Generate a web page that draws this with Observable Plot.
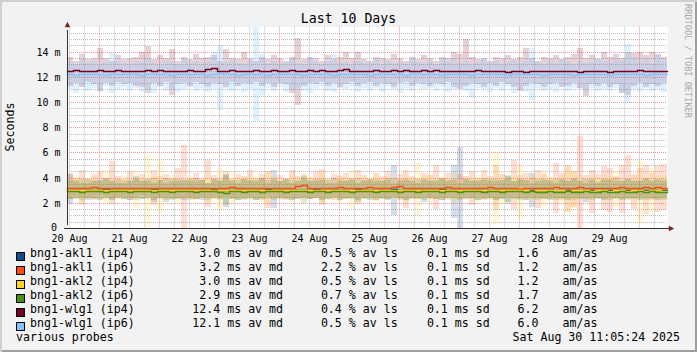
<!DOCTYPE html>
<html>
<head>
<meta charset="utf-8">
<script src="https://cdn.jsdelivr.net/npm/d3@7"></script>
<script src="https://cdn.jsdelivr.net/npm/@observablehq/plot@0.6"></script>
<style>
html, body { margin:0; padding:0; background:#f2f2f2; }
#wrap { position:relative; width:697px; height:352px; background:#f2f2f2; overflow:hidden;
  font-family:"DejaVu Sans Mono", monospace; color:#000; }
#plot { position:absolute; left:0; top:0; }
.t { position:absolute; white-space:pre; }
.sw { position:absolute; width:7px; height:7px; border:1px solid #000; }
#shade { position:absolute; left:0; top:0; width:697px; height:352px; pointer-events:none;
  box-shadow: inset 2px 2px 0 #cfcfcf, inset -2px -2px 0 #9e9e9e; }
</style>
</head>
<body>
<div id="wrap"><div id="plot"></div></div>
<script>
// ---------- data ----------
const seriesNames = ["bng1-akl1 (ip4)","bng1-akl1 (ip6)","bng1-akl2 (ip4)","bng1-akl2 (ip6)","bng1-wlg1 (ip4)","bng1-wlg1 (ip6)"];
const avMedian = ["3.0","3.2","3.0","2.9","12.4","12.1"];
const avLoss   = ["0.5","2.2","0.5","0.7","0.4","0.5"];
const sdev     = ["0.1","0.1","0.1","0.1","0.1","0.1"];
const amas     = ["1.6","1.2","1.2","1.7","6.2","6.0"];
const yTickVals = [0,2,4,6,8,10,12,14];
const xTickDays = ["2025-08-20","2025-08-21","2025-08-22","2025-08-23","2025-08-24","2025-08-25","2025-08-26","2025-08-27","2025-08-28","2025-08-29"];
const xTickLabels = ["20 Aug","21 Aug","22 Aug","23 Aug","24 Aug","25 Aug","26 Aug","27 Aug","28 Aug","29 Aug"];
const startTime = "2025-08-20T11:05:24Z";
const endTime = "2025-08-30T11:05:24Z";
const stampText = "Sat Aug 30 11:05:24 2025";

// median (ms) per 2.4 h step
const akl1ip4Md = [3.05,3.0,3.05,3.05,3.0,3.05,3.1,3.05,3.0,3.05, 3.05,3.0,3.05,3.05,3.1,3.05,3.0,3.05,3.05,3.0, 3.05,3.05,3.0,3.05,3.1,3.05,3.05,3.0,3.05,3.05, 3.0,3.05,3.05,3.1,3.05,3.0,3.05,3.05,3.0,3.05, 3.05,3.1,3.05,3.0,3.05,3.05,3.0,3.05,3.1,3.05, 3.05,3.0,3.05,3.05,3.1,3.05,3.0,3.05,3.05,3.0, 3.05,3.05,3.1,3.05,3.0,3.05,3.05,3.0,3.05,3.05, 3.0,3.05,3.05,3.0,3.05,3.05,3.0,3.05,3.05,3.0, 3.05,3.0,3.05,3.05,3.0,3.05,3.0,3.05,3.05,3.0, 3.0,3.05,3.0,3.05,3.0,3.05,3.0,3.0,3.05,3.0];
const akl1ip4Lo = [1.9,2.3,2.4,2.2,2.4,2.3,2.5,2.2,2.4,2.3, 2.2,2.4,2.3,2.5,2.2,2.4,2.1,2.3,2.4,2.2, 2.4,2.3,2.2,2.4,2.5,2.3,1.7,2.4,2.2,2.3, 2.4,2.2,2.3,2.5,1.6,2.3,2.4,2.2,2.3,2.4, 2.3,2.4,2.2,2.3,2.5,2.2,2.4,2.3,2.2,2.4, 2.3,2.2,2.4,2.3,1.0,2.4,2.2,2.3,2.4,2.1, 2.4,2.3,2.2,2.4,0.8,0.0,2.3,2.4,2.2,2.3, 2.4,2.2,2.3,2.1,2.4,2.3,2.2,1.7,2.4,2.3, 2.2,2.4,2.3,2.2,2.4,2.3,2.1,2.4,2.3,2.2, 2.4,2.3,2.2,2.4,2.3,2.2,2.4,2.3,2.2,2.4];
const akl1ip4Hi = [4.3,3.8,3.6,3.9,3.7,3.8,4.0,3.7,3.9,3.6, 3.8,4.1,3.7,3.9,3.6,3.8,4.0,3.7,3.9,3.8, 3.7,4.0,3.8,3.6,3.9,3.7,4.2,3.8,3.6,3.9, 3.8,3.7,4.0,3.8,4.6,3.7,3.9,3.6,3.8,4.0, 3.7,3.9,3.8,3.6,4.0,3.7,3.8,3.9,3.6,3.8, 3.9,3.7,3.8,4.0,5.0,3.7,3.9,3.8,3.6,3.9, 3.8,3.7,4.0,3.8,5.0,6.4,3.9,3.7,3.8,4.0, 3.7,3.9,3.8,4.1,3.7,3.9,3.8,4.4,3.7,3.9, 3.8,3.6,3.9,3.8,4.0,3.7,3.9,3.8,3.6,3.9, 3.8,4.0,3.7,3.9,3.8,3.7,4.0,3.8,3.9,3.7];

const akl1ip6Md = [3.15,3.2,3.15,3.2,3.25,3.15,3.2,3.15,3.2,3.15, 3.2,3.15,3.2,3.2,3.15,3.2,3.15,3.15,3.2,3.15, 3.2,3.15,3.2,3.15,3.2,3.15,3.2,3.25,3.15,3.2, 3.15,3.2,3.15,3.2,3.15,3.2,3.15,3.2,3.3,3.4, 3.2,3.15,3.2,3.15,3.2,3.25,3.15,3.2,3.15,3.2, 3.25,3.2,3.15,3.2,3.25,3.3,3.2,3.15,3.2,3.15, 3.2,3.15,3.2,3.25,3.2,3.15,3.2,3.2,3.15,3.2, 3.25,3.2,3.15,3.2,3.15,3.1,3.15,3.2,3.15,3.2, 3.2,3.25,3.2,3.15,3.2,3.25,3.2,3.15,3.2,3.2, 3.15,3.2,3.25,3.2,3.15,3.2,3.25,3.2,3.25,3.2];
const akl1ip6Lo = [2.3,2.5,1.8,2.4,2.2,2.6,2.3,1.9,2.4,2.5, 2.2,2.4,2.6,2.3,1.8,2.5,2.2,2.4,2.3,0.0, 2.4,2.3,2.5,1.7,2.4,2.2,2.5,2.3,2.4,2.2, 2.5,2.3,2.2,1.6,2.4,2.5,2.2,2.4,2.3,2.5, 2.3,2.4,1.8,2.5,2.2,2.4,2.3,2.5,1.9,2.4, 2.5,2.2,2.4,2.3,2.5,2.2,1.6,2.4,2.3,2.5, 2.3,1.5,2.4,2.2,2.5,2.3,2.4,1.8,2.5,2.2, 2.4,1.4,2.3,2.5,1.5,2.4,2.2,2.5,1.6,2.3, 2.5,1.2,2.2,1.3,1.7,0.0,2.3,1.2,2.4,1.4, 1.3,2.4,1.2,2.3,1.5,2.5,1.1,2.2,1.3,1.4];
const akl1ip6Hi = [4.4,4.0,4.6,3.9,4.3,4.5,4.0,5.3,4.1,3.9, 4.5,4.0,4.3,3.9,4.6,4.1,4.3,4.0,4.8,6.6, 4.0,4.4,3.9,5.4,4.2,4.0,4.5,3.9,4.3,4.1, 4.6,4.0,4.3,4.5,4.0,4.2,3.9,4.6,4.1,4.3, 4.0,4.5,4.7,3.9,4.3,4.1,4.4,4.0,4.6,4.2, 3.9,4.4,4.1,4.5,4.0,4.3,4.6,4.1,3.9,4.4, 4.2,5.0,4.0,4.4,3.9,4.3,4.1,4.5,4.0,4.6, 4.1,5.0,4.3,4.0,5.4,4.2,4.4,4.0,4.6,4.3, 4.0,5.2,4.4,5.0,4.5,7.3,4.2,4.6,4.3,4.9, 4.8,4.1,5.0,5.8,4.3,4.8,5.0,4.4,5.0,5.1];

const akl2ip4Md = [3.0,3.05,3.0,3.0,3.05,3.0,3.0,3.05,3.0,3.0, 3.05,3.0,3.0,3.0,3.05,3.0,3.0,3.05,3.0,3.0, 3.0,3.05,3.0,3.0,3.05,3.0,3.0,3.0,3.05,3.0, 3.0,3.05,3.0,3.0,3.0,3.05,3.0,3.0,3.05,3.0, 3.0,3.0,3.05,3.0,3.0,3.05,3.0,3.0,3.0,3.05, 3.0,3.0,3.05,3.0,3.0,3.0,3.05,3.0,3.0,3.05, 3.0,3.0,3.0,3.05,3.0,3.0,3.05,3.0,3.0,3.0, 3.05,3.0,3.0,3.0,3.05,3.0,3.0,2.95,3.0,3.0, 3.0,3.05,3.0,2.95,3.0,3.0,3.0,2.95,3.0,3.0, 2.95,3.0,3.0,2.95,3.0,3.0,2.95,3.0,3.0,2.95];
const akl2ip4Lo = [2.2,2.4,2.1,2.3,2.5,2.2,2.0,2.4,2.3,2.2, 2.4,1.6,2.3,0.1,2.4,1.2,2.2,2.3,2.1,2.4, 2.3,2.2,2.4,2.1,2.3,1.4,2.2,2.0,2.3,2.4, 2.2,2.3,2.1,1.8,2.4,2.2,2.3,2.1,2.4,2.2, 2.3,2.4,2.0,2.2,2.3,2.1,2.4,1.5,2.2,2.3, 2.4,2.1,2.3,2.2,2.4,2.3,2.1,2.2,1.0,2.3, 2.1,2.3,2.2,2.4,2.0,2.3,2.2,2.4,2.1,2.3, 2.2,0.3,2.0,2.3,2.2,0.8,2.4,2.1,2.3,1.7, 2.3,2.2,2.1,1.2,1.6,2.2,2.3,2.1,2.4,2.2, 2.3,1.7,2.2,2.4,2.1,0.4,2.3,1.3,2.2,2.3];
const akl2ip4Hi = [3.9,4.2,3.8,4.0,4.1,3.7,4.6,3.9,4.0,4.2, 3.8,4.5,4.0,5.8,4.1,5.5,3.9,4.2,4.0,3.8, 4.1,3.9,4.0,4.3,3.8,4.8,4.0,4.4,3.9,4.1, 4.0,4.2,3.9,4.5,4.1,3.8,4.0,4.3,3.9,4.2, 4.1,3.8,4.4,4.0,3.9,4.2,4.0,4.6,3.8,4.1, 4.0,4.3,3.9,4.1,4.0,3.8,4.2,4.0,5.2,4.1, 4.3,3.9,4.1,4.0,4.4,3.8,4.1,3.9,4.2,4.0, 3.9,6.0,4.2,4.0,4.1,5.1,3.9,4.3,4.0,4.6, 4.1,3.9,4.2,4.9,4.5,4.1,3.9,4.2,4.0,4.3, 4.1,4.5,4.0,3.9,4.2,5.3,4.0,4.8,4.1,4.2];

const akl2ip6Md = [2.9,2.9,2.85,2.9,2.9,2.9,2.85,2.9,2.9,2.9, 2.85,2.9,2.9,2.9,2.85,2.9,2.9,2.85,2.9,2.9, 2.9,2.85,2.9,2.9,2.9,2.85,2.8,2.9,2.9,2.85, 2.9,2.9,2.85,2.9,2.9,2.9,2.85,2.9,2.9,2.9, 2.85,2.9,2.9,2.85,2.9,2.9,2.9,2.85,2.9,2.9, 2.9,2.85,2.9,2.9,2.9,2.85,2.9,2.9,2.85,2.9, 2.9,2.9,2.85,2.9,2.9,2.85,2.9,2.9,2.9,2.85, 2.9,2.9,2.85,2.9,2.9,2.9,2.85,2.9,2.85,2.85, 2.9,2.85,2.85,2.9,2.85,2.85,2.9,2.85,2.85,2.9, 2.85,2.85,2.9,2.85,2.85,2.9,2.85,2.9,2.85,2.85];
const akl2ip6Lo = [2.3,2.4,2.2,2.4,2.3,2.2,2.4,2.3,2.5,2.3, 2.4,2.2,2.3,2.4,2.1,2.3,2.4,2.2,2.3,2.4, 2.2,2.3,2.4,2.2,2.3,2.4,1.8,2.3,2.2,2.4, 2.3,2.2,2.4,2.3,2.2,2.4,2.3,2.2,2.4,2.0, 2.3,2.4,2.2,2.3,2.4,2.2,2.3,2.4,2.1,2.3, 2.2,2.4,2.3,2.2,2.4,2.3,2.2,2.4,2.3,2.2, 2.4,2.3,2.2,2.4,2.3,2.2,2.4,2.3,2.2,2.4, 2.3,2.2,2.4,1.9,2.3,2.2,2.4,2.3,2.2,2.4, 2.3,2.2,2.4,2.3,2.2,2.4,2.3,2.2,2.4,2.3, 2.2,2.4,2.3,2.2,2.4,2.3,2.2,2.4,2.3,2.2];
const akl2ip6Hi = [3.8,3.7,3.9,3.6,3.8,3.7,3.9,3.8,3.6,3.8, 3.7,3.9,3.8,3.7,4.0,3.8,3.6,3.9,3.7,3.8, 3.9,3.7,3.8,3.6,3.9,3.8,4.3,3.7,3.8,3.9, 3.7,3.8,3.9,3.6,3.8,3.7,3.9,3.8,3.7,4.1, 3.8,3.7,3.9,3.8,3.6,3.9,3.7,3.8,4.0,3.7, 3.8,3.9,3.7,3.8,3.6,3.9,3.8,3.7,3.9,3.8, 3.7,3.8,3.9,3.7,3.8,3.6,3.9,3.8,3.7,3.8, 3.9,3.7,3.8,4.2,3.7,3.9,3.8,3.6,3.9,3.8, 3.7,3.9,3.8,3.7,3.9,3.8,3.6,3.9,3.7,3.8, 3.9,3.7,3.8,3.9,3.7,3.8,3.9,3.7,3.8,3.9];

const wlg1ip4Md = [12.5,12.55,12.5,12.5,12.45,12.55,12.5,12.5,12.55,12.5, 12.5,12.45,12.5,12.55,12.5,12.55,12.5,12.5,12.45,12.5, 12.55,12.5,12.5,12.6,12.7,12.5,12.5,12.55,12.5,12.45, 12.5,12.55,12.5,12.5,12.55,12.5,12.5,12.55,12.5,12.5, 12.55,12.5,12.55,12.45,12.5,12.55,12.6,12.5,12.5,12.45, 12.5,12.55,12.5,12.5,12.55,12.5,12.55,12.5,12.5,12.55, 12.5,12.55,12.45,12.5,12.5,12.45,12.5,12.5,12.55,12.5, 12.5,12.45,12.45,12.4,12.45,12.5,12.4,12.45,12.5,12.45, 12.45,12.45,12.5,12.45,12.45,12.4,12.45,12.45,12.5,12.45, 12.4,12.45,12.5,12.45,12.5,12.55,12.45,12.5,12.45,12.5];
const wlg1ip4Lo = [11.3,11.5,11.2,11.6,11.4,10.9,11.5,11.3,11.6,11.4, 11.5,11.3,11.2,10.7,11.5,11.3,11.6,10.55,11.4,11.5, 11.3,11.6,11.4,11.2,11.5,11.4,11.2,11.6,11.3,11.5, 11.4,11.6,11.3,11.5,11.2,11.5,11.4,10.7,9.8,11.3, 11.5,11.4,11.6,11.3,11.5,11.2,11.4,11.6,11.3,11.5, 11.6,11.3,11.5,11.4,11.2,11.5,11.6,11.3,11.5,11.4, 11.3,11.5,11.4,11.6,11.2,11.0,11.3,11.5,11.4,11.2, 11.5,11.3,11.6,11.4,11.2,10.9,11.3,11.5,11.4,11.2, 11.4,11.5,11.2,11.3,11.5,11.1,10.45,11.4,11.3,11.5, 11.2,11.4,10.7,10.6,11.3,11.5,11.2,11.4,11.3,11.5];
const wlg1ip4Hi = [13.6,13.3,13.8,13.4,13.5,14.3,13.5,13.3,13.7,13.4, 13.5,13.6,14.0,14.45,13.4,13.7,13.5,14.2,13.3,13.6, 13.4,13.8,13.5,13.6,13.7,13.3,14.2,13.5,13.4,14.0, 13.5,13.3,13.6,13.4,13.7,13.5,13.3,13.6,15.1,13.4, 13.6,13.5,13.3,13.7,13.4,13.6,14.0,13.5,14.0,13.4, 13.3,13.6,13.5,13.4,13.8,13.5,13.3,13.6,13.4,13.7, 13.5,13.3,13.6,13.5,14.0,13.8,15.0,13.6,13.4,13.5, 13.3,13.6,13.5,13.7,13.4,13.6,14.3,13.5,13.3,13.6, 13.5,13.7,13.4,13.6,13.8,14.3,13.5,13.7,13.4,14.0, 13.6,13.8,13.5,14.0,13.9,14.0,13.7,14.0,13.8,13.6];

const wlg1ip6Md = [12.2,12.15,12.2,12.2,12.25,12.2,12.15,12.2,12.2,12.25, 12.2,12.2,12.15,12.2,12.25,12.2,12.2,12.15,12.2,12.2, 12.25,12.2,12.2,12.15,12.2,12.3,12.2,12.2,12.15,12.2, 12.2,12.25,12.2,12.15,12.2,12.2,12.25,12.2,12.2,12.15, 12.2,12.2,12.25,12.2,12.15,12.2,12.2,12.25,12.2,12.2, 12.15,12.2,12.2,12.25,12.2,12.2,12.15,12.2,12.2,12.25, 12.2,12.2,12.15,12.2,12.25,12.2,12.2,12.15,12.2,12.2, 12.25,12.2,12.2,12.15,12.2,12.2,12.25,12.2,12.2,12.15, 12.2,12.2,12.25,12.2,12.15,12.2,12.2,12.25,12.2,12.2, 12.15,12.2,12.2,12.25,12.2,12.2,12.15,12.2,12.2,12.2];
const wlg1ip6Lo = [11.0,10.7,11.2,10.9,11.1,10.8,11.3,10.7,11.0,11.2, 10.9,11.1,10.8,11.0,10.7,11.2,10.9,11.1,10.8,11.0, 11.2,10.9,11.1,10.8,11.0,9.4,11.1,10.9,11.2,10.8, 11.0,8.5,10.6,11.1,10.9,11.2,10.8,11.0,11.1,10.9, 10.7,11.0,11.2,10.9,10.8,11.1,11.0,11.2,10.8,11.1, 10.9,11.1,10.8,11.2,11.0,10.7,11.1,10.9,11.2,11.0, 11.1,10.9,11.2,10.8,11.0,11.1,10.9,10.3,11.1,11.0, 10.8,11.1,10.9,11.2,10.7,11.0,10.8,10.2,11.1,10.9, 11.0,10.8,11.2,10.9,11.1,11.0,10.8,11.1,10.9,11.0, 10.9,11.1,10.7,9.9,11.0,10.8,11.1,10.9,11.0,10.8];
const wlg1ip6Hi = [13.2,13.0,13.4,13.1,13.3,13.0,13.2,13.9,13.3,13.1, 13.0,13.3,13.2,13.4,13.1,13.0,13.3,13.2,13.0,13.4, 13.1,13.3,13.0,13.2,14.0,14.5,13.2,13.3,13.1,13.0, 13.3,16.0,13.8,13.1,13.3,13.0,13.2,13.4,13.1,13.0, 13.6,13.2,13.0,13.3,13.8,13.1,13.2,13.0,13.3,13.1, 13.2,13.4,13.0,13.3,13.1,13.2,13.0,13.4,13.2,13.1, 13.3,13.0,13.4,13.2,13.5,13.1,13.3,13.0,13.2,13.4, 13.1,13.3,13.0,13.2,13.4,13.1,13.3,14.3,13.2,13.0, 13.3,13.1,13.4,13.2,13.0,13.3,13.1,13.2,13.5,13.3, 13.1,13.4,13.3,14.6,13.6,13.2,13.5,13.1,13.7,13.3];

// ---------- styles ----------
const seriesColors = ["#0d4f8b","#ff4a12","#ffd21f","#4b9114","#740022","#7fc6ff"];
const smokeOpacity = [0.18,0.18,0.18,0.18,0.18,0.25];

// ---------- build ----------
const t0 = new Date(startTime), t1 = new Date(endTime);
const medians = [akl1ip4Md, akl1ip6Md, akl2ip4Md, akl2ip6Md, wlg1ip4Md, wlg1ip6Md];
const lows = [akl1ip4Lo, akl1ip6Lo, akl2ip4Lo, akl2ip6Lo, wlg1ip4Lo, wlg1ip6Lo];
const highs = [akl1ip4Hi, akl1ip6Hi, akl2ip4Hi, akl2ip6Hi, wlg1ip4Hi, wlg1ip6Hi];

const series = seriesNames.map((name, k) => {
  const md = medians[k], n = md.length, step = (t1 - t0) / n;
  const rows = md.map((v, i) => ({t: new Date(+t0 + i * step), md: v, lo: lows[k][i], hi: highs[k][i]}));
  rows.push({...rows[n - 1], t: t1});
  return {name, rows, color: seriesColors[k], smoke: smokeOpacity[k]};
});

const xMajor = d3.utcDay.range(t0, t1);
const xMinor = d3.utcHour.every(6).range(t0, t1).filter(d => d.getUTCHours() !== 0);
const yMajor = yTickVals.filter(v => v > 0);
const yMinor = d3.range(0.5, 16, 0.5).filter(v => v % 2 !== 0);
const xTickDates = xTickDays.map(d => new Date(d + "T12:00:00Z"));

const arrowUp = {draw(ctx, size) { const s = Math.sqrt(size / Math.PI); ctx.moveTo(0, -s); ctx.lineTo(s, s); ctx.lineTo(-s, s); ctx.closePath(); }};
const arrowRight = {draw(ctx, size) { const s = Math.sqrt(size / Math.PI); ctx.moveTo(s, 0); ctx.lineTo(-s, s); ctx.lineTo(-s, -s); ctx.closePath(); }};

const chart = Plot.plot({
  width: 697, height: 245,
  marginLeft: 67, marginRight: 30, marginTop: 26.5, marginBottom: 17,
  style: {background: "transparent", fontFamily: "'DejaVu Sans Mono', monospace", fontSize: "10px", color: "#000", overflow: "visible"},
  x: {type: "utc", domain: [t0, t1], round: true, axis: null},
  y: {domain: [0, 16], round: true, axis: null},
  marks: [
    Plot.frame({fill: "#fff", stroke: null}),
    Plot.ruleY(yMinor, {stroke: "#bdbdbd", strokeDasharray: "1,1"}),
    Plot.ruleX(xMinor, {stroke: "#bdbdbd", strokeDasharray: "1,1"}),
    Plot.ruleY(yMajor, {stroke: "#eb9595", strokeDasharray: "1,1"}),
    Plot.ruleX(xMajor, {stroke: "#eb9595", strokeDasharray: "1,1"}),
    ...series.map(s => Plot.areaY(s.rows, {x: "t", y1: "lo", y2: "hi", curve: "step-after", fill: s.color, fillOpacity: s.smoke})),
    ...series.map(s => Plot.line(s.rows, {x: "t", y: "md", curve: "step-after", stroke: s.color, strokeWidth: 1.5})),
    Plot.ruleX([t0], {y1: 0, y2: 16, stroke: "#333", insetTop: -3, insetBottom: -3}),
    Plot.ruleY([0], {x1: t0, x2: t1, stroke: "#333", insetRight: -4, insetLeft: -3}),
    Plot.dot([t0], {x: d => d, y: () => 16, symbol: arrowUp, r: 2.7, fill: "#7f1f1f", stroke: "none", dy: -3}),
    Plot.dot([t1], {x: d => d, y: () => 0, symbol: arrowRight, r: 2.7, fill: "#7f1f1f", stroke: "none", dx: 4}),
    Plot.axisY(yMajor, {tickSize: 0, tickPadding: 7, tickFormat: v => `${v} m`, label: null}),
    Plot.axisY([0], {tickSize: 0, tickPadding: 7, dx: -3.5, dy: -1, tickFormat: () => "0", label: null}),
    Plot.axisX(xTickDates, {tickSize: 0, tickPadding: 6, label: null,
      tickFormat: d => xTickLabels[xTickDates.findIndex(x => +x === +d)]})
  ]
});
document.getElementById("plot").appendChild(chart);

// ---------- text ----------
const wrap = document.getElementById("wrap");
function addText(txt, left, baseline, size, opts = {}) {
  const el = document.createElement("div");
  el.className = "t";
  el.textContent = txt;
  el.style.fontSize = size + "px";
  el.style.lineHeight = (size * 1.2) + "px";
  el.style.top = (baseline - 0.946 * size) + "px";
  el.style.left = left + "px";
  if (opts.color) el.style.color = opts.color;
  wrap.appendChild(el);
  return el;
}
function addRotated(txt, cx, cy, size, deg, color) {
  const el = document.createElement("div");
  el.className = "t";
  el.textContent = txt;
  el.style.fontSize = size + "px";
  el.style.lineHeight = (size * 1.164) + "px";
  el.style.left = cx + "px";
  el.style.top = cy + "px";
  el.style.transform = `translate(-50%, -50%) rotate(${deg}deg)`;
  if (color) el.style.color = color;
  wrap.appendChild(el);
}

const title = addText("Last 10 Days", 0, 23, 13.2);
title.style.width = "697px"; title.style.textAlign = "center";
addRotated("Seconds", 10.8, 127, 11.6, -90);
addRotated("RRDTOOL / TOBI OETIKER", 688.3, 61, 8.6, 90, "#a9a9a9");

const LF = 11.6;
seriesNames.forEach((name, k) => {
  const base = 258 + 14 * k;
  const sw = document.createElement("div");
  sw.className = "sw";
  sw.style.left = "16px";
  sw.style.top = (base - 6.5) + "px";
  sw.style.background = seriesColors[k];
  wrap.appendChild(sw);
  addText(name, 30, base, LF);
  addText(avMedian[k].padStart(4, " ") + " ms av md", 192.3, base, LF);
  addText(avLoss[k] + " % av ls", 320.9, base, LF);
  addText(sdev[k] + " ms sd", 426.9, base, LF);
  addText(amas[k], 517.5, base, LF);
  addText("am/as", 562.5, base, LF);
});
addText("various probes", 16, 342, LF);
addText(stampText, 512.5, 342, LF);

const shade = document.createElement("div");
shade.id = "shade";
wrap.appendChild(shade);
</script>
</body>
</html>
